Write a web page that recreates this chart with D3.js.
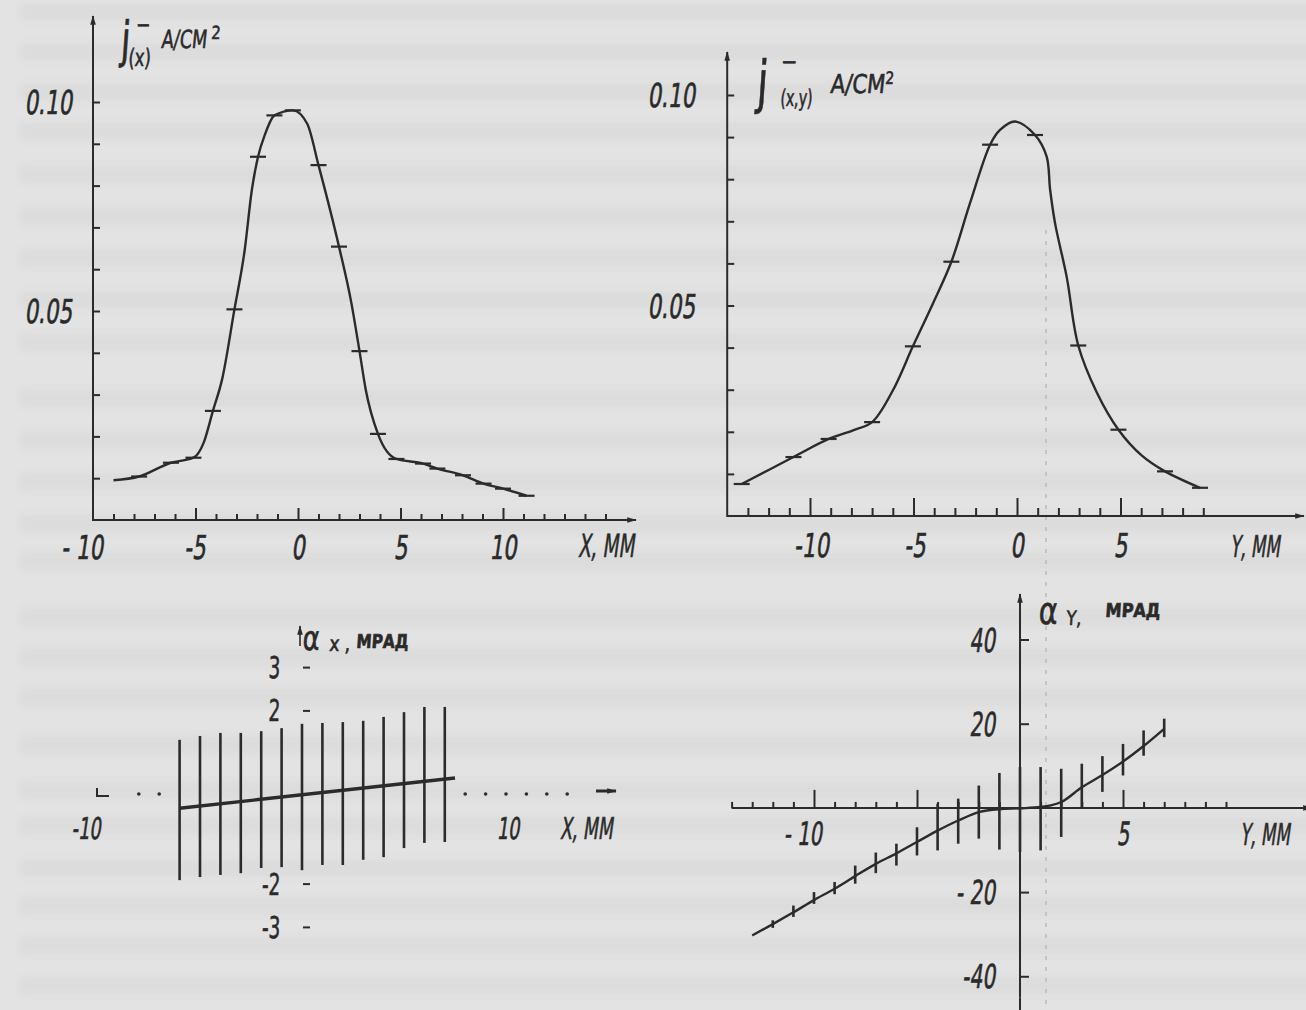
<!DOCTYPE html>
<html>
<head>
<meta charset="utf-8">
<script src="https://cdn.jsdelivr.net/npm/d3@7"></script>
<style>
html, body { margin: 0; padding: 0; background: #e3e3e3; }
svg { display: block; }
text { font-family: "DejaVu Sans Condensed", "DejaVu Sans", sans-serif; fill: #2a2a2a; stroke: #2a2a2a; stroke-width: 0.6px; }
</style>
</head>
<body>
<svg id="page" width="1306" height="1010"></svg>
<script>
// --- j(x) profile, top left (x in mm, current density in A/cm2)
var jxX = [-9.0, -7.75, -6.2, -5.1, -4.6, -4.15, -3.7, -3.1, -2.6, -2.25, -1.95, -1.6, -1.15, -0.25, 0.45, 1.0, 2.0, 2.6, 3.0, 3.3, 3.9, 4.8, 6.1, 6.8, 8.05, 9.05, 10.0, 11.15];
var jxY = [0.0095, 0.0104, 0.0137, 0.0149, 0.0185, 0.0261, 0.0337, 0.0504, 0.0646, 0.079, 0.0869, 0.0924, 0.0968, 0.098, 0.0948, 0.0849, 0.0654, 0.052, 0.0404, 0.0313, 0.0206, 0.0146, 0.0135, 0.0123, 0.0107, 0.0087, 0.0075, 0.0058];
var jxMarkX = [-7.75, -6.2, -5.1, -4.15, -3.1, -1.95, -1.15, -0.25, 1.0, 2.0, 3.0, 3.9, 4.8, 6.1, 6.8, 8.05, 9.05, 10.0, 11.15];
var jxMarkY = [0.0104, 0.0137, 0.0149, 0.0261, 0.0504, 0.0869, 0.0968, 0.098, 0.0849, 0.0654, 0.0404, 0.0206, 0.0146, 0.0135, 0.0123, 0.0107, 0.0087, 0.0075, 0.0058];

// --- j(x,y) profile, top right (y in mm)
var jyX = [-13.3, -10.8, -9.1, -7.95, -7.0, -6.0, -5.03, -4.06, -3.17, -2.27, -1.3, -0.82, -0.1, 0.87, 1.43, 1.6, 1.84, 2.4, 2.96, 3.85, 4.9, 6.02, 7.15, 8.84];
var jyY = [0.0076, 0.014, 0.0183, 0.0203, 0.0223, 0.0298, 0.0403, 0.0505, 0.0604, 0.0743, 0.0882, 0.0917, 0.0937, 0.0905, 0.0854, 0.0775, 0.0695, 0.0568, 0.0405, 0.0294, 0.0205, 0.0144, 0.0106, 0.0067];
var jyMarkX = [-13.3, -10.8, -9.1, -7.0, -5.03, -3.17, -1.3, 0.87, 2.96, 4.9, 7.15, 8.84];
var jyMarkY = [0.0076, 0.014, 0.0183, 0.0223, 0.0403, 0.0604, 0.0882, 0.0905, 0.0405, 0.0205, 0.0106, 0.0067];

// --- alpha x, bottom left (mrad)
var axX = [-6, -5, -4, -3, -2, -1, 0, 1, 2, 3, 4, 5, 6, 7];
var axHi = [1.32, 1.41, 1.48, 1.48, 1.52, 1.59, 1.69, 1.71, 1.73, 1.76, 1.85, 1.96, 2.08, 2.08];
var axLo = [-1.92, -1.85, -1.80, -1.76, -1.64, -1.62, -1.69, -1.57, -1.57, -1.45, -1.39, -1.18, -1.06, -1.04];
var axLineX = [-6, 7.5];
var axLineY = [-0.26, 0.44];

// --- alpha y, bottom right (mrad)
var ayLineX = [-13, -12, -11, -10, -9, -8, -7, -6, -5, -4, -3, -2, -1, 0, 1, 1.5, 2, 3, 4, 5, 6, 7];
var ayLineY = [-30.3, -27.6, -24.8, -21.9, -19.2, -16.2, -13.3, -10.8, -8.1, -5.4, -3.0, -1.0, -0.3, -0.1, 0.2, 0.6, 1.4, 4.9, 7.8, 11.0, 14.7, 18.8];
var ayBarX = [-12, -11, -10, -9, -8, -7, -6, -5, -4, -3, -2, -1, 0, 1, 2, 3, 4, 5, 6, 7];
var ayHi = [-26.7, -23.2, -20.0, -17.6, -13.7, -10.6, -8.5, -4.6, 1.0, 2.2, 5.3, 8.3, 9.7, 9.7, 9.3, 10.5, 12.3, 15.2, 18.4, 21.2];
var ayLo = [-28.5, -25.9, -22.8, -20.5, -18.0, -15.5, -13.7, -11.3, -10.1, -8.5, -7.3, -9.9, -10.5, -10.1, -6.9, 0.0, 3.8, 7.7, 12.4, 16.8];

// tick labels
var jxTicks = [-10, -5, 0, 5, 10], jxTickText = ["- 10", "-5", "0", "5", "10"];
var jyTicks = [-10, -5, 0, 5], jyTickText = ["-10", "-5", "0", "5"];
var jTicksV = [0.05, 0.1], jTickVText = ["0.05", "0.10"];
var axTicksV = [3, 2, -2, -3], axTickVText = ["3", "2", "-2", "-3"];
var ayTicksV = [40, 20, -20, -40], ayTickVText = ["40", "20", "- 20", "-40"];

var W = 1306, H = 1010;
var ink = "#2b2b2b";
var svg = d3.select("#page");

// paper + faint show-through of the printed text on the back
svg.append("rect").attr("width", W).attr("height", H).attr("fill", "#e3e3e3");
var defs = svg.append("defs");
defs.append("filter").attr("id", "blur").append("feGaussianBlur").attr("stdDeviation", 4);
defs.append("marker")
    .attr("id", "arr")
    .attr("viewBox", "0 -5 12 10")
    .attr("refX", 11).attr("refY", 0)
    .attr("markerUnits", "userSpaceOnUse")
    .attr("markerWidth", 14).attr("markerHeight", 8)
    .attr("orient", "auto")
    .append("path").attr("d", "M0,-3.5L12,0L0,3.5Z").attr("fill", ink);

var bandRows = [12, 52, 92, 131, 174, 216, 258, 300, 342, 398, 440, 482, 523, 561, 617, 657, 697, 745, 790, 826, 868, 906, 946, 986];
svg.append("g").attr("filter", "url(#blur)").attr("opacity", 0.08)
    .selectAll("rect").data(bandRows).enter().append("rect")
    .attr("x", 20).attr("width", W).attr("y", function (d) { return d - 9; }).attr("height", 18)
    .attr("fill", "#8a8a8a");
svg.append("line").attr("x1", 1046).attr("x2", 1046).attr("y1", 230).attr("y2", H)
    .attr("stroke", "#bdbdbd").attr("stroke-width", 1.6).attr("stroke-dasharray", "4,7");

function txt(g, x, y, s, size, anchor, sx, skew) {
    return g.append("text")
        .attr("transform", "translate(" + x + "," + y + ") skewX(" + (skew == null ? -8 : skew) + ") scale(" + (sx || 0.72) + ",1)")
        .attr("text-anchor", anchor || "middle")
        .style("font-size", size + "px")
        .text(s);
}

function styleAxis(sel) {
    sel.select(".domain").remove();
    sel.selectAll(".tick text").remove();
    sel.selectAll(".tick line").attr("stroke", ink).attr("stroke-width", 2);
}

function notMajor(list) {
    return function (v) { return list.indexOf(v) < 0; };
}

function arrowLine(g, xa, ya, xb, yb, w) {
    g.append("line").attr("x1", xa).attr("y1", ya).attr("x2", xb).attr("y2", yb)
        .attr("stroke", ink).attr("stroke-width", w || 2).attr("marker-end", "url(#arr)");
}

function marks(g, xs, ys, x, y, half) {
    g.selectAll(".mk").data(d3.zip(xs, ys)).enter().append("line")
        .attr("class", "mk")
        .attr("x1", function (d) { return x(d[0]) - half; })
        .attr("x2", function (d) { return x(d[0]) + half; })
        .attr("y1", function (d) { return y(d[1]); })
        .attr("y2", function (d) { return y(d[1]); })
        .attr("stroke", ink).attr("stroke-width", 2.2);
}

// ================= chart 1 : j(x)
var g1 = svg.append("g");
var x1 = d3.scaleLinear().domain([-10, 10]).range([93, 503]);
var y1 = d3.scaleLinear().domain([0, 0.1]).range([520, 102]);

arrowLine(g1, x1(-10), y1(0), 636, y1(0));
arrowLine(g1, x1(-10), y1(0) + 1, x1(-10), 16);
g1.append("g").attr("transform", "translate(0," + y1(0) + ")")
    .call(d3.axisTop(x1).tickValues(d3.range(-9, 16).filter(notMajor([-5, 0, 5, 10]))).tickSize(6)).call(styleAxis);
g1.append("g").attr("transform", "translate(0," + y1(0) + ")")
    .call(d3.axisTop(x1).tickValues([-5, 0, 5, 10]).tickSize(12)).call(styleAxis);
g1.append("g").attr("transform", "translate(" + x1(-10) + ",0)")
    .call(d3.axisRight(y1).tickValues(d3.range(1, 11).map(function (i) { return i / 100; })).tickSize(7)).call(styleAxis);

g1.append("path")
    .datum(d3.zip(jxX, jxY))
    .attr("fill", "none").attr("stroke", ink).attr("stroke-width", 2.4)
    .attr("d", d3.line().x(function (d) { return x1(d[0]); }).y(function (d) { return y1(d[1]); }).curve(d3.curveMonotoneX));
marks(g1, jxMarkX, jxMarkY, x1, y1, 8);

jxTicks.forEach(function (v, i) {
    txt(g1, v < 0 ? x1(v) + 10 : x1(v), 559, jxTickText[i], 33, v < 0 ? "end" : "middle");
});
jTicksV.forEach(function (v, i) {
    txt(g1, 72, y1(v) + 12, jTickVText[i], 33, "end");
});
txt(g1, 578, 557, "X, ММ", 32, "start", 0.64);
txt(g1, 120, 57, "j", 50, "start", 0.75, -4);
txt(g1, 136, 33, "−", 24, "start", 0.8, 0);
txt(g1, 128, 66, "(x)", 24, "start", 0.75, -4);
txt(g1, 161, 48, "А/СМ", 25, "start", 0.78, -6);
txt(g1, 211, 39, "2", 18, "start", 0.9, -4);

// ================= chart 2 : j(x,y)
var g2 = svg.append("g");
var x2 = d3.scaleLinear().domain([-10, 5]).range([810, 1120.5]);
var y2 = d3.scaleLinear().domain([0, 0.1]).range([516, 95]);

arrowLine(g2, x2(-14), y2(0), 1304, y2(0));
arrowLine(g2, x2(-14), y2(0) + 1, x2(-14), 52);
g2.append("g").attr("transform", "translate(0," + y2(0) + ")")
    .call(d3.axisTop(x2).tickValues(d3.range(-13, 10).filter(notMajor([-10, -5, 0, 5]))).tickSize(8)).call(styleAxis);
g2.append("g").attr("transform", "translate(0," + y2(0) + ")")
    .call(d3.axisTop(x2).tickValues([-10, -5, 0, 5]).tickSize(18)).call(styleAxis);
g2.append("g").attr("transform", "translate(" + x2(-14) + ",0)")
    .call(d3.axisRight(y2).tickValues(d3.range(1, 11).map(function (i) { return i / 100; })).tickSize(7)).call(styleAxis);

g2.append("path")
    .datum(d3.zip(jyX, jyY))
    .attr("fill", "none").attr("stroke", ink).attr("stroke-width", 2.4)
    .attr("d", d3.line().x(function (d) { return x2(d[0]); }).y(function (d) { return y2(d[1]); }).curve(d3.curveCatmullRom.alpha(0.5)));
marks(g2, jyMarkX, jyMarkY, x2, y2, 8);

jyTicks.forEach(function (v, i) {
    txt(g2, v < 0 ? x2(v) + (v <= -10 ? 19 : 12) : x2(v), 557, jyTickText[i], 33, v < 0 ? "end" : "middle");
});
jTicksV.forEach(function (v, i) {
    txt(g2, 695, y2(v) + 12, jTickVText[i], 33, "end");
});
txt(g2, 1230, 557, "Y,  ММ", 30, "start", 0.62);
txt(g2, 756, 102, "j", 58, "start", 0.75, -4);
txt(g2, 781, 70, "−", 24, "start", 0.9, 0);
txt(g2, 780, 106, "(x,y)", 23, "start", 0.68, -4);
txt(g2, 830, 93, "А/СМ", 26, "start", 0.9, -6);
txt(g2, 885, 84, "2", 17, "start", 0.9, -4);

// ================= chart 3 : alpha x
var g3 = svg.append("g");
var x3 = d3.scaleLinear().domain([-10, 10]).range([98, 506]);
var y3 = d3.scaleLinear().domain([-2, 2]).range([883.6, 710.4]);

// dotted abscissa
g3.selectAll(".dot").data([-8, -7, 8, 9, 10, 11, 12, 13]).enter().append("circle")
    .attr("class", "dot").attr("cx", function (d) { return x3(d); }).attr("cy", y3(0) - 3).attr("r", 1.8).attr("fill", ink);
g3.append("path").attr("d", "M" + (x3(-10) - 1) + "," + (y3(0) - 9) + "V" + (y3(0) - 1) + "H" + (x3(-10) + 11))
    .attr("fill", "none").attr("stroke", ink).attr("stroke-width", 2);
arrowLine(g3, 596, y3(0) - 6, 616, y3(0) - 6, 3);
g3.append("g").attr("transform", "translate(303,0)")
    .call(d3.axisRight(y3).tickValues(axTicksV).tickSize(7)).call(styleAxis);
arrowLine(g3, 300, 646, 300, 626, 1.6);

g3.selectAll(".bar").data(d3.zip(axX, axLo, axHi)).enter().append("line")
    .attr("class", "bar")
    .attr("x1", function (d) { return x3(d[0]); }).attr("x2", function (d) { return x3(d[0]); })
    .attr("y1", function (d) { return y3(d[2]); }).attr("y2", function (d) { return y3(d[1]); })
    .attr("stroke", ink).attr("stroke-width", 2.6);
g3.append("line")
    .attr("x1", x3(axLineX[0])).attr("y1", y3(axLineY[0]))
    .attr("x2", x3(axLineX[1])).attr("y2", y3(axLineY[1]))
    .attr("stroke", ink).attr("stroke-width", 3.4);

axTicksV.forEach(function (v, i) {
    txt(g3, 280, y3(v) + 11, axTickVText[i], 30, "end", 0.68, -2);
});
txt(g3, 86, 839, "-10", 30, "middle", 0.66);
txt(g3, 508, 839, "10", 30, "middle", 0.66);
txt(g3, 560, 839, "X, ММ", 30, "start", 0.64);
txt(g3, 302, 650, "α", 34, "start", 0.85, -4);
txt(g3, 329, 651, "x ,", 21, "start", 0.9, -4);
txt(g3, 356, 648, "МРАД", 19, "start", 0.9, -4).style("font-weight", "bold");

// ================= chart 4 : alpha y
var g4 = svg.append("g");
var x4 = d3.scaleLinear().domain([-10, 5]).range([814, 1123]);
var y4 = d3.scaleLinear().domain([-40, 40]).range([976.3, 639.5]);

arrowLine(g4, x4(-14), y4(0), 1312, y4(0));
g4.append("line").attr("x1", x4(0)).attr("x2", x4(0)).attr("y1", H).attr("y2", y4(-45))
    .attr("stroke", ink).attr("stroke-width", 2);
arrowLine(g4, x4(0), y4(-45), x4(0), 594);
g4.append("g").attr("transform", "translate(0," + y4(0) + ")")
    .call(d3.axisTop(x4).tickValues(d3.range(-14, 11).filter(notMajor([-10, -5, 0, 5]))).tickSize(6)).call(styleAxis);
g4.append("g").attr("transform", "translate(0," + y4(0) + ")")
    .call(d3.axisTop(x4).tickValues([-10, -5, 5]).tickSize(18)).call(styleAxis);
g4.append("g").attr("transform", "translate(" + x4(0) + ",0)")
    .call(d3.axisRight(y4).tickValues(ayTicksV).tickSize(9)).call(styleAxis);

g4.selectAll(".bar").data(d3.zip(ayBarX, ayLo, ayHi)).enter().append("line")
    .attr("class", "bar")
    .attr("x1", function (d) { return x4(d[0]); }).attr("x2", function (d) { return x4(d[0]); })
    .attr("y1", function (d) { return y4(d[2]); }).attr("y2", function (d) { return y4(d[1]); })
    .attr("stroke", ink).attr("stroke-width", 2.6);
g4.append("path")
    .datum(d3.zip(ayLineX, ayLineY))
    .attr("fill", "none").attr("stroke", ink).attr("stroke-width", 2.4)
    .attr("d", d3.line().x(function (d) { return x4(d[0]); }).y(function (d) { return y4(d[1]); }).curve(d3.curveMonotoneX));

ayTicksV.forEach(function (v, i) {
    txt(g4, 995, y4(v) + 12, ayTickVText[i], 33, "end", 0.68);
});
txt(g4, 822, 845, "- 10", 32, "end", 0.68);
txt(g4, x4(5), 845, "5", 32, "middle", 0.68);
txt(g4, 1240, 845, "Y,  ММ", 30, "start", 0.62);
txt(g4, 1038, 624, "α", 38, "start", 0.85, -4);
txt(g4, 1066, 625, "Y,", 20, "start", 0.9, -4);
txt(g4, 1105, 617, "МРАД", 19, "start", 0.95, -4).style("font-weight", "bold");
</script>
</body>
</html>
